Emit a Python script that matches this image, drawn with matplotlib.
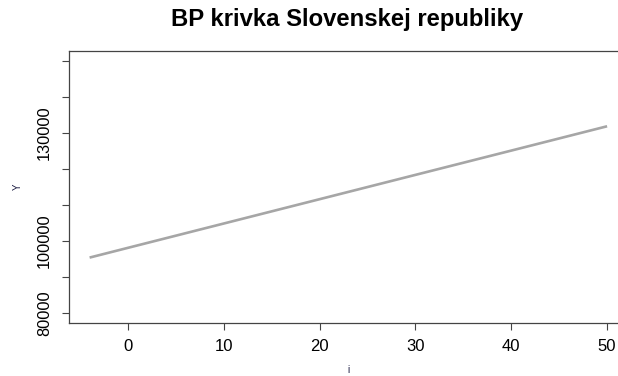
import matplotlib
matplotlib.use("Agg")
import matplotlib.pyplot as plt

plt.rcParams['font.family'] = ['Liberation Sans', 'DejaVu Sans']

# BP curve: interest rate i vs output Y
i_vals = [-4, 0, 10, 20, 30, 40, 50]
y_vals = [95440, 98140, 104880, 111620, 118360, 125090, 131830]

y_ticks = [80000, 90000, 100000, 110000, 120000, 130000, 140000, 150000]
y_tick_labels = ["80000", "", "100000", "", "", "130000", "", ""]
x_ticks = [0, 10, 20, 30, 40, 50]

W, H = 618, 376
fig = plt.figure(figsize=(W / 100, H / 100), dpi=100)
ax = fig.add_axes([68.9 / W, 52.6 / H, 558.9 / W, 272.8 / H])

ax.plot(i_vals, y_vals, color="#a6a6a6", linewidth=1.9, solid_capstyle="butt")

ax.set_xlim(-6.16, 52.16)
ax.set_ylim(77200, 152800)
ax.set_xticks(x_ticks)
ax.set_xticklabels([str(t) for t in x_ticks], fontsize=12)
ax.set_yticks(y_ticks)
ax.set_yticklabels(y_tick_labels, fontsize=11.8, rotation=90, va="center")

ax.tick_params(axis="x", length=5, width=0.8, color="#444444", pad=6)
ax.tick_params(axis="y", length=5, width=0.8, color="#444444", pad=7)
for side in ax.spines.values():
    side.set_color("#444444")
    side.set_linewidth(0.9)
ax.spines["right"].set_visible(False)

fig.text(347 / W, 1 - 26 / H, "BP krivka Slovenskej republiky",
         fontsize=17.2, fontweight="bold", ha="center", va="baseline")
fig.text(18 / W, 1 - 187 / H, "Y", fontsize=7, rotation=90, ha="center", va="center", color="#1a1a40")
fig.text(348 / W, 1 - 365 / H, "i", fontsize=7, ha="center", va="top", color="#1a1a40")

fig.savefig("out.png", dpi=100)
